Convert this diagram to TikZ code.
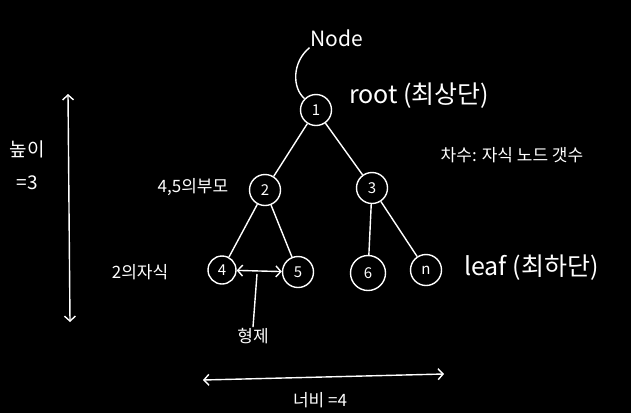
\documentclass[tikz,border=0pt]{standalone}
\usepackage{fontspec}
\usetikzlibrary{arrows.meta}
\setmainfont{Noto Sans CJK KR}
\begin{document}
\begin{tikzpicture}[x=1pt,y=-1pt,>={Straight Barb[length=5pt,width=11pt]},
  line/.style={white,line width=1.4pt},
  vert/.style={circle,draw=white,line width=1.4pt,text=white,minimum size=31pt,inner sep=0pt,font=\fontsize{15}{16}\selectfont},
  lbl/.style={text=white,font=\fontsize{17}{19}\selectfont,inner sep=1pt},
  big/.style={text=white,font=\fontsize{25}{27}\selectfont,inner sep=1pt}]
\fill[black] (0,0) rectangle (631,413);
\useasboundingbox (0,0) rectangle (631,413);

% tree
\node[vert] (v1) at (316,110) {1};
\node[vert] (v2) at (265,190) {2};
\node[vert] (v3) at (372,188) {3};
\node[vert,minimum size=28pt] (v4) at (222,270) {4};
\node[vert] (v5) at (298,272) {5};
\node[vert,minimum size=35pt] (v6) at (368,273) {6};
\node[vert] (vn) at (426,270) {n};
\foreach \a/\b in {v1/v2,v1/v3,v2/v4,v2/v5,v3/v6,v3/vn}
  \draw[line] (\a) -- (\b);

% labels
\node[big,font=\fontsize{21}{23}\selectfont] (nodelbl) at (337,38) {Node};
\draw[line] (nodelbl.south west) .. controls (292,62) and (292,88) .. (v1.north west);
\node[big,anchor=west] (rootlbl) at (348,96) {root (최상단)};
\node[lbl] (deglbl) at (512,155) {차수: 자식 노드 갯수};
\node[lbl] (parlbl) at (193,187) {4,5의부모};
\node[lbl] (chlbl) at (140,272) {2의자식};
\node[big,anchor=west] (leaflbl) at (463,268) {leaf (최하단)};

% sibling
\draw[line,<->] (v4) -- (v5);
\coordinate (sibtop) at (257,274);
\node[lbl] (siblbl) at (253,336) {형제};
\draw[line] (sibtop) -- (siblbl.north);

% height
\coordinate (htop) at (68,94);
\coordinate (hbot) at (70,322);
\draw[line,<->] (hbot) -- (htop);
\node[lbl,align=center,font=\fontsize{19}{33}\selectfont] (hlbl) at (27,165) {높이\\=3};

% width
\coordinate (wl) at (203,380);
\coordinate (wr) at (444,374);
\draw[line,<->] (wl) -- (wr);
\node[lbl] (wlbl) at (320,400) {너비 =4};
\end{tikzpicture}
\end{document}
